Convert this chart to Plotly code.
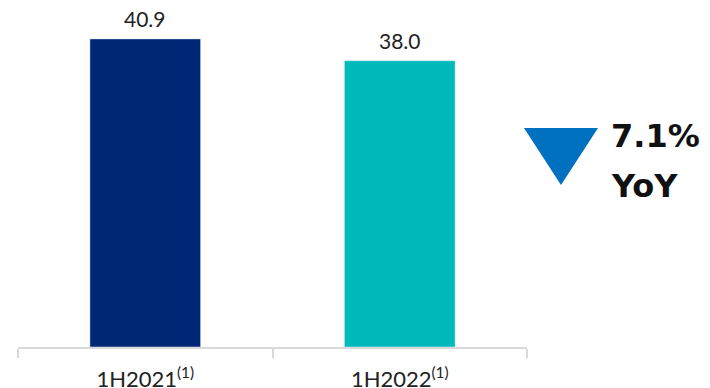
import plotly.graph_objects as go

categories = ["1H2021<sup>(1)</sup>", "1H2022<sup>(1)</sup>"]
values = [40.9, 38.0]
value_labels = ["40.9", "38.0"]
bar_colors = ["#002776", "#00B9BB"]
change_text = "7.1%"
change_label = "YoY"

fig = go.Figure()
fig.add_trace(go.Bar(
    x=categories, y=values, marker_color=bar_colors, width=0.435,
))

for c, v, t in zip(categories, values, value_labels):
    fig.add_annotation(x=c, y=v, text=t, showarrow=False, yanchor="bottom",
                       yshift=6, font=dict(size=21, color="#222222", family="Lato"))

fig.update_layout(
    width=710, height=388,
    margin=dict(l=18, r=183, t=8, b=41),
    plot_bgcolor="white", paper_bgcolor="white",
    showlegend=False,
    xaxis=dict(
        showline=True, linecolor="#d9d9d9", linewidth=2,
        ticks="outside", tickson="boundaries", ticklen=9, tickcolor="#d9d9d9", tickwidth=2,
        tickfont=dict(size=22, color="#222222", family="Lato"),
        ticklabelstandoff=12,
        automargin=False,
        range=[-0.5, 1.5],
    ),
    yaxis=dict(range=[0, 45], visible=False, showgrid=False, automargin=False),
)

# decorative down-triangle
def px2x(p):
    return (p - 18) / 509
def py2y(p):
    return (347 - p) / 339

fig.add_shape(
    type="path", xref="paper", yref="paper",
    path=f"M {px2x(524)} {py2y(128)} L {px2x(598)} {py2y(128)} L {px2x(561)} {py2y(185)} Z",
    fillcolor="#0070C0", line=dict(width=0),
)
fig.add_annotation(xref="paper", yref="paper", x=px2x(609), y=py2y(136),
                   xanchor="left", yanchor="middle", showarrow=False,
                   text=f"<b>{change_text}</b>",
                   font=dict(size=32, color="#111111", family="DejaVu Sans"))
fig.add_annotation(xref="paper", yref="paper", x=px2x(609), y=py2y(186),
                   xanchor="left", yanchor="middle", showarrow=False,
                   text=f"<b>{change_label}</b>",
                   font=dict(size=32, color="#111111", family="DejaVu Sans"))

fig.write_html("out.html")
